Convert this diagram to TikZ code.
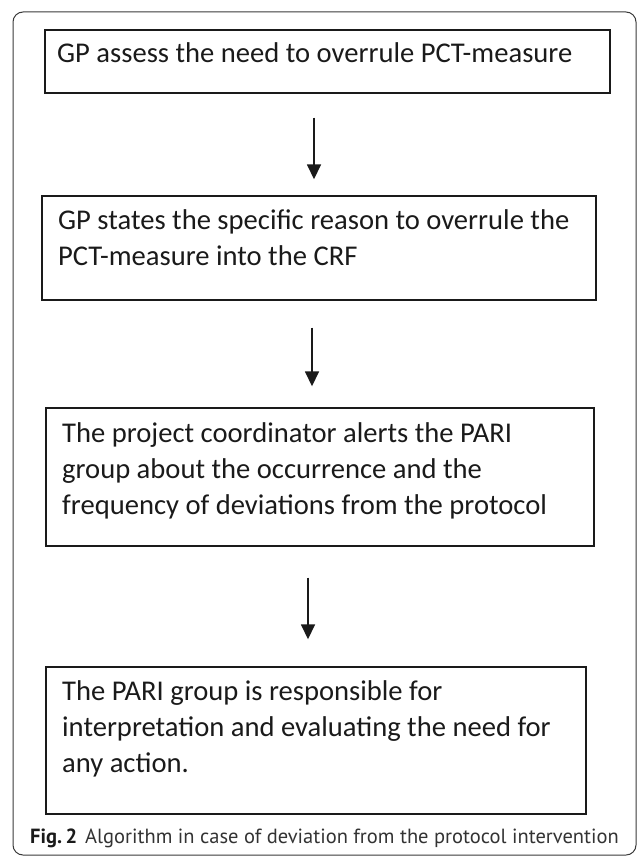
\documentclass[tikz,border=0pt]{standalone}
\usepackage{fontspec}
\setmainfont{Carlito}
\newfontfamily\capfont{PT Sans}
\usetikzlibrary{arrows.meta}
\definecolor{ink}{HTML}{1A1A1A}
\definecolor{framegray}{HTML}{3A3A3A}
\definecolor{capgray}{HTML}{333333}
\tikzset{
  stepbox/.style={draw=ink, line width=1.4pt, rectangle, inner sep=0pt},
  steptext/.style={anchor=base west, align=left, inner sep=0pt, text=ink,
    font=\fontsize{28.6}{36}\selectfont},
  arr/.style={draw=ink, line width=1.6pt, -{Triangle[length=15pt,width=14pt]}},
}
\begin{document}
\begin{tikzpicture}[x=1pt,y=-1pt]
\useasboundingbox (0,0) rectangle (637,856);
% outer frame
\draw[framegray, line width=1pt, rounded corners=10pt] (13,12) rectangle (636,855);
% boxes
\node[stepbox, minimum width=565pt, minimum height=63pt] (b1) at (327.5,61.5) {};
\node[stepbox, minimum width=554pt, minimum height=104pt] (b2) at (319,248) {};
\node[stepbox, minimum width=548pt, minimum height=138pt] (b3) at (320,477) {};
\node[stepbox, minimum width=540pt, minimum height=147pt] (b4) at (316,740.5) {};
% texts (anchor = baseline of last line)
\node[steptext] (t1) at (57,63) {GP assess the need to overrule PCT-measure};
\node[steptext] (t2) at (58,265) {GP states the specific reason to overrule the\\PCT-measure into the CRF};
\node[steptext] (t3) at (62,514) {The project coordinator alerts the PARI\\group about the occurrence and the\\frequency of deviations from the protocol};
\node[steptext] (t4) at (62,772) {The PARI group is responsible for\\interpretation and evaluating the need for\\any action.};
% arrows
\coordinate (x1) at (314,0);
\coordinate (x2) at (312,0);
\coordinate (x3) at (308,0);
\draw[arr, shorten <=24pt, shorten >=16pt] (b1.south -| x1) -- (b2.north -| x1);
\draw[arr, shorten <=27pt, shorten >=21pt] (b2.south -| x2) -- (b3.north -| x2);
\draw[arr, shorten <=31pt, shorten >=27pt] (b3.south -| x3) -- (b4.north -| x3);
% caption
\node[anchor=base west, inner sep=0pt, font=\capfont\fontsize{20.5}{25}\selectfont, text=capgray] (cap) at (30,843)
  {\textbf{\color{ink}Fig.\,2}\hspace{8pt}Algorithm in case of deviation from the protocol intervention};
\end{tikzpicture}
\end{document}
